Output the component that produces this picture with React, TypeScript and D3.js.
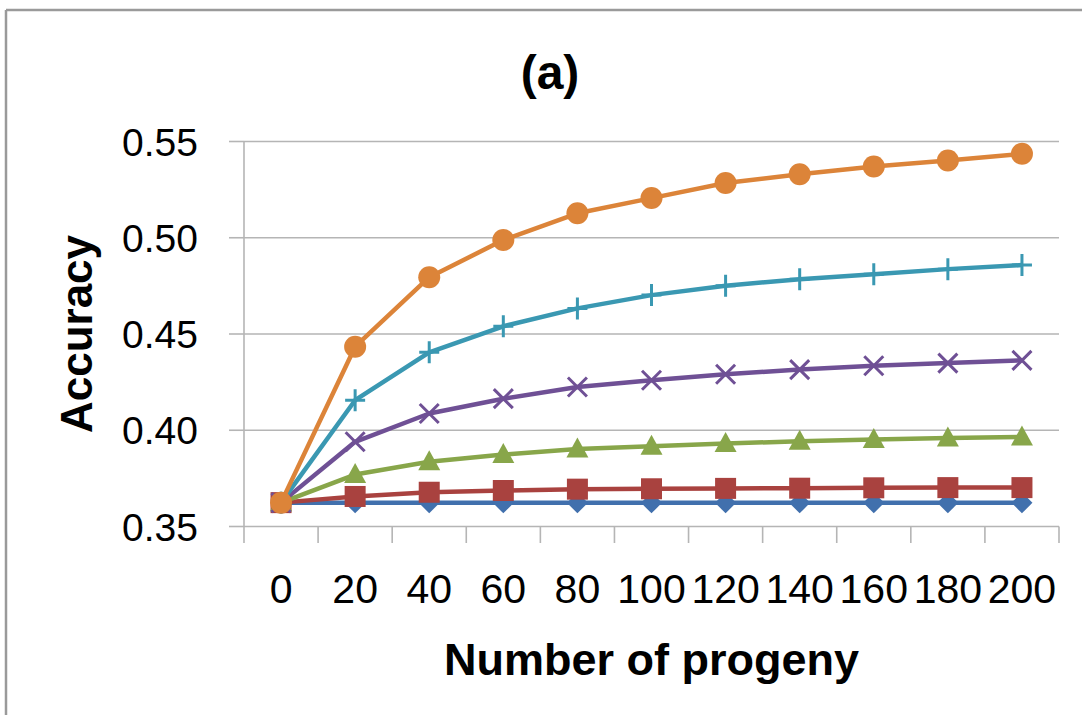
import React from "react";
import * as d3 from "d3";

const categories = [0, 20, 40, 60, 80, 100, 120, 140, 160, 180, 200];
const yTicks = [0.35, 0.4, 0.45, 0.5, 0.55];

const seriesBlue = [0.3623, 0.3623, 0.3623, 0.3623, 0.3623, 0.3623, 0.3623, 0.3623, 0.3623, 0.3623, 0.3623];
const seriesRed = [0.3624, 0.3656, 0.3678, 0.3687, 0.3694, 0.3696, 0.3698, 0.3699, 0.3701, 0.3702, 0.3702];
const seriesGreen = [0.3624, 0.377, 0.3836, 0.3874, 0.3903, 0.3917, 0.3931, 0.3943, 0.3952, 0.396, 0.3965];
const seriesPurple = [0.3624, 0.394, 0.4087, 0.4164, 0.4225, 0.426, 0.4291, 0.4315, 0.4335, 0.4349, 0.4363];
const seriesCyan = [0.3624, 0.4156, 0.4405, 0.454, 0.4633, 0.4702, 0.4751, 0.4785, 0.4811, 0.4837, 0.4858];
const seriesOrange = [0.3624, 0.4434, 0.4795, 0.4988, 0.5127, 0.5206, 0.5284, 0.533, 0.537, 0.5401, 0.5436];

const title = "(a)";
const xTitle = "Number of progeny";
const yTitle = "Accuracy";

type Marker = "diamond" | "square" | "triangle" | "x" | "plus" | "circle";
const series: { values: number[]; color: string; marker: Marker }[] = [
  { values: seriesBlue, color: "#4170AD", marker: "diamond" },
  { values: seriesRed, color: "#A9423F", marker: "square" },
  { values: seriesGreen, color: "#88A64A", marker: "triangle" },
  { values: seriesPurple, color: "#6F5095", marker: "x" },
  { values: seriesCyan, color: "#3A98B2", marker: "plus" },
  { values: seriesOrange, color: "#DC8439", marker: "circle" },
];

const W = 1082;
const H = 715;
const plotLeft = 244;
const plotRight = 1059;
const plotTop = 141.5;
const plotBottom = 526.5;
const FONT = "'Liberation Sans', Arial, sans-serif";
const GRID = "#B5B5B5";

function MarkerShape({ kind, cx, cy, color }: { kind: Marker; cx: number; cy: number; color: string }) {
  switch (kind) {
    case "diamond":
      return <path d={`M${cx},${cy - 10.5}L${cx + 10.5},${cy}L${cx},${cy + 10.5}L${cx - 10.5},${cy}Z`} fill={color} />;
    case "square":
      return <rect x={cx - 10.5} y={cy - 10.5} width={21} height={21} fill={color} />;
    case "triangle":
      return <path d={`M${cx},${cy - 11.5}L${cx + 11},${cy + 8.5}L${cx - 11},${cy + 8.5}Z`} fill={color} />;
    case "x":
      return (
        <path
          d={`M${cx - 9.5},${cy - 9.5}L${cx + 9.5},${cy + 9.5}M${cx - 9.5},${cy + 9.5}L${cx + 9.5},${cy - 9.5}`}
          stroke={color}
          strokeWidth={3}
          fill="none"
        />
      );
    case "plus":
      return (
        <path
          d={`M${cx},${cy - 11}L${cx},${cy + 11}M${cx - 10},${cy}L${cx + 10},${cy}`}
          stroke={color}
          strokeWidth={3}
          fill="none"
        />
      );
    case "circle":
    default:
      return <circle cx={cx} cy={cy} r={11} fill={color} />;
  }
}

export default function App() {
  const x = d3.scaleBand<number>().domain(categories).range([plotLeft, plotRight]).padding(0);
  const bw = x.bandwidth();
  const cx = (c: number) => (x(c) as number) + bw / 2;
  const y = d3.scaleLinear().domain([0.35, 0.55]).range([plotBottom, plotTop]);

  const line = d3
    .line<number>()
    .x((_, i) => cx(categories[i]))
    .y((v) => y(v));

  const boundaries = d3.range(categories.length + 1).map((i) => plotLeft + i * bw);
  const fmt = d3.format(".2f");

  return (
    <svg
      width={W}
      height={H}
      style={{ position: "absolute", left: 0, top: 0, background: "#fff" }}
      xmlns="http://www.w3.org/2000/svg"
    >
      <rect x={0} y={0} width={W} height={H} fill="#fff" />
      {/* frame */}
      <line x1={6} x2={6} y1={10} y2={H} stroke="#9A9A9A" strokeWidth={2.5} />
      <line x1={6} x2={W} y1={10} y2={10} stroke="#9A9A9A" strokeWidth={2.5} />

      {/* gridlines */}
      {yTicks.map((t) => (
        <line key={`g${t}`} x1={plotLeft} x2={plotRight} y1={y(t)} y2={y(t)} stroke={GRID} strokeWidth={1.6} />
      ))}
      {/* y axis */}
      <line x1={plotLeft} x2={plotLeft} y1={plotTop} y2={plotBottom} stroke={GRID} strokeWidth={1.6} />
      {yTicks.map((t) => (
        <line key={`yt${t}`} x1={229} x2={plotLeft} y1={y(t)} y2={y(t)} stroke={GRID} strokeWidth={1.6} />
      ))}
      {yTicks.map((t) => (
        <text
          key={`yl${t}`}
          x={198}
          y={y(t)}
          dy="0.36em"
          textAnchor="end"
          fontFamily={FONT}
          fontSize={39}
          fill="#000"
        >
          {fmt(t)}
        </text>
      ))}
      {/* x axis ticks */}
      {boundaries.map((b, i) => (
        <line key={`xt${i}`} x1={b} x2={b} y1={plotBottom} y2={543} stroke={GRID} strokeWidth={1.6} />
      ))}
      {categories.map((c) => (
        <text key={`xl${c}`} x={cx(c)} y={603} textAnchor="middle" fontFamily={FONT} fontSize={41} fill="#000">
          {c}
        </text>
      ))}

      {/* series lines */}
      {series.map((s, si) => (
        <g key={`s${si}`}>
          <path d={line(s.values) || ""} fill="none" stroke={s.color} strokeWidth={4.5} strokeLinejoin="round" />
          {s.values.map((v, i) => (
            <MarkerShape key={i} kind={s.marker} cx={cx(categories[i])} cy={y(v)} color={s.color} />
          ))}
        </g>
      ))}

      {/* titles */}
      <text x={550} y={89} textAnchor="middle" fontFamily={FONT} fontWeight="bold" fontSize={48} fill="#000">
        {title}
      </text>
      <text
        x={(plotLeft + plotRight) / 2}
        y={675}
        textAnchor="middle"
        fontFamily={FONT}
        fontWeight="bold"
        fontSize={45}
        fill="#000"
      >
        {xTitle}
      </text>
      <text
        transform={`translate(92, ${(plotTop + plotBottom) / 2}) rotate(-90)`}
        textAnchor="middle"
        fontFamily={FONT}
        fontWeight="bold"
        fontSize={44}
        fill="#000"
      >
        {yTitle}
      </text>
    </svg>
  );
}
